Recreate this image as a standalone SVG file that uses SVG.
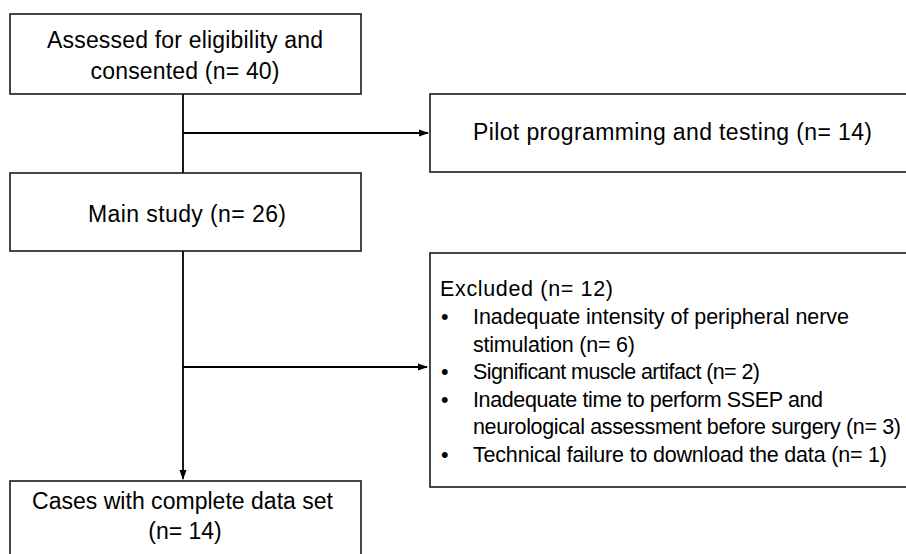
<svg xmlns="http://www.w3.org/2000/svg" width="906" height="554" viewBox="0 0 906 554">
<style>
.box{fill:#fff;stroke:#1a1a1a;stroke-width:1.6}
.t{font-family:"Liberation Sans",Arial,sans-serif;font-size:23px;fill:#000}
.s{font-size:21.5px}
.c{text-anchor:middle}
.ln{stroke:#000;stroke-width:1.8;fill:none}
</style>
<defs>
<marker id="ah" markerWidth="10" markerHeight="8" refX="9" refY="4" orient="auto" markerUnits="userSpaceOnUse">
<path d="M0,0.5 L10,4 L0,7.5 Z" fill="#000"/>
</marker>
</defs>
<rect width="906" height="554" fill="#fff"/>
<g id="connectors">
<line class="ln" x1="183" y1="94" x2="183" y2="173"/>
<line class="ln" x1="183" y1="133" x2="428" y2="133" marker-end="url(#ah)"/>
<line class="ln" x1="183" y1="251" x2="183" y2="479" marker-end="url(#ah)"/>
<line class="ln" x1="183" y1="367" x2="427" y2="367" marker-end="url(#ah)"/>
</g>
<g id="assessed">
<rect class="box" x="10" y="14" width="351" height="80"/>
<text class="t c" x="185" y="48" textLength="276">Assessed for eligibility and</text>
<text class="t c" x="185" y="79" textLength="189">consented (n= 40)</text>
</g>
<g id="pilot">
<rect class="box" x="430" y="94" width="480" height="78"/>
<text class="t" x="473" y="140" textLength="399">Pilot programming and testing (n= 14)</text>
</g>
<g id="main">
<rect class="box" x="10" y="173" width="351" height="78"/>
<text class="t c" x="187" y="222" textLength="198">Main study (n= 26)</text>
</g>
<g id="excluded">
<rect class="box" x="430" y="253" width="480" height="234"/>
<text class="t s" x="440" y="296" textLength="173">Excluded (n= 12)</text>
<text class="t s" x="441" y="324">•</text>
<text class="t s" x="473" y="324" textLength="376">Inadequate intensity of peripheral nerve</text>
<text class="t s" x="473" y="352" textLength="162">stimulation (n= 6)</text>
<text class="t s" x="441" y="379">•</text>
<text class="t s" x="473" y="379" textLength="287">Significant muscle artifact (n= 2)</text>
<text class="t s" x="441" y="407">•</text>
<text class="t s" x="473" y="407" textLength="350">Inadequate time to perform SSEP and</text>
<text class="t s" x="473" y="434" textLength="428">neurological assessment before surgery (n= 3)</text>
<text class="t s" x="441" y="462">•</text>
<text class="t s" x="473" y="462" textLength="414">Technical failure to download the data (n= 1)</text>
</g>
<g id="complete">
<rect class="box" x="10" y="481" width="351" height="80"/>
<text class="t c" x="182.5" y="509" textLength="301">Cases with complete data set</text>
<text class="t c" x="185" y="539">(n= 14)</text>
</g>
</svg>
